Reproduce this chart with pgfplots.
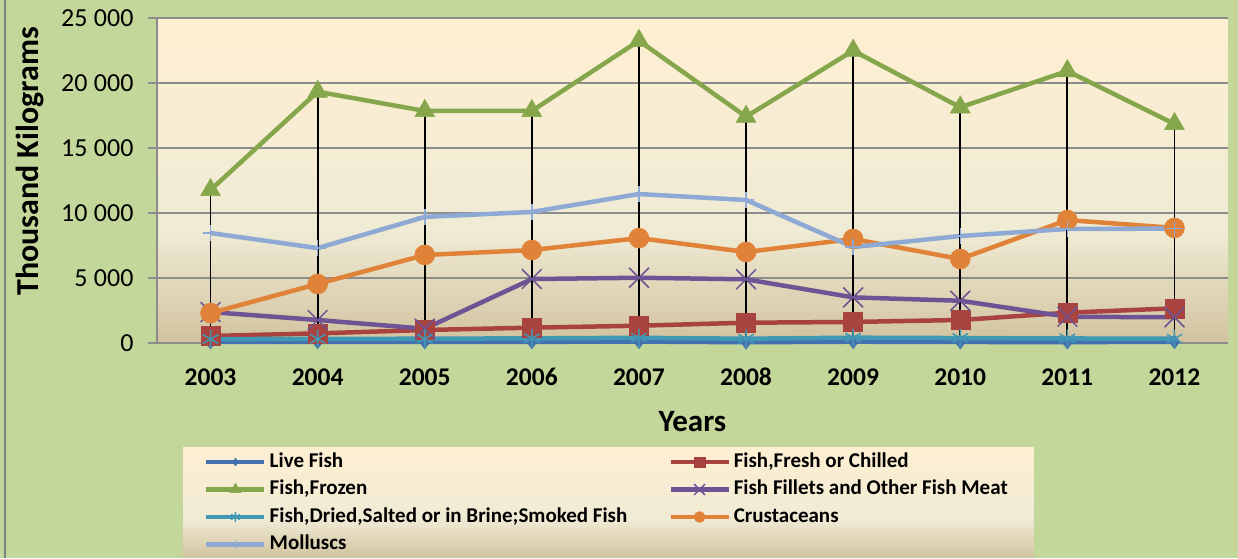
\documentclass[border=0pt]{standalone}
\usepackage{pgfplots}
\pgfplotsset{compat=1.18}
\usepackage{pgfplotstable}
\usepackage{fontspec}
\setmainfont{Carlito}

\definecolor{chartbg}{RGB}{196,215,155}
\definecolor{framegray}{RGB}{128,128,128}
\definecolor{gridgray}{RGB}{140,140,140}
\definecolor{parchtop}{RGB}{254,239,210}
\definecolor{parchmid}{RGB}{240,235,213}
\definecolor{parchbot}{RGB}{210,196,160}
\definecolor{cLive}{RGB}{68,112,176}
\definecolor{cFresh}{RGB}{169,67,64}
\definecolor{cFrozen}{RGB}{134,166,75}
\definecolor{cFillet}{RGB}{110,84,148}
\definecolor{cDried}{RGB}{65,152,180}
\definecolor{cCrust}{RGB}{224,130,56}
\definecolor{cMoll}{RGB}{142,169,212}

% Fish exports by product group, thousand kilograms
\pgfplotstableread{
year live fresh frozen fillets dried crust moll
2003 80  540  11770 2380 300 2300 8460
2004 90  740  19330 1770 320 4540 7300
2005 80  1000 17850 1100 330 6770 9700
2006 90  1180 17850 4920 360 7150 10080
2007 110 1330 23250 5020 400 8070 11460
2008 60  1560 17410 4900 330 7000 11000
2009 100 1620 22490 3510 410 8000 7380
2010 80  1770 18130 3250 380 6460 8230
2011 70  2330 20920 2020 350 9460 8770
2012 90  2670 16850 1980 330 8850 8800
}\fishdata

% parchment gradient: #1,#2 = left/right x, #3 = top y, #4 = height (all in pt)
\newcommand\parchment[4]{%
  \foreach \i in {0,...,31} {%
    \pgfmathtruncatemacro\p{100*\i/31}%
    \fill[parchmid!\p!parchtop]
      (#1pt,{#3pt-0.64*#4pt*\i/32}) rectangle (#2pt,{#3pt-0.64*#4pt*(\i+1)/32-0.6pt});
  }%
  \foreach \i in {0,...,17} {%
    \pgfmathtruncatemacro\p{100*\i/17}%
    \fill[parchbot!\p!parchmid]
      (#1pt,{#3pt-0.64*#4pt-0.36*#4pt*\i/18}) rectangle (#2pt,{max(#3pt-0.64*#4pt-0.36*#4pt*(\i+1)/18-0.6pt,#3pt-#4pt)});
  }%
}

\begin{document}
\begin{tikzpicture}
\useasboundingbox (0pt,0pt) rectangle (1238pt,558pt);
\fill[chartbg] (0pt,0pt) rectangle (1238pt,558pt);
\draw[framegray, line width=2pt] (4.5pt,0pt) -- (4.5pt,558pt);
% plot area and legend backgrounds
\parchment{157}{1228}{540}{325}
\parchment{183}{1034}{111}{111}

\begin{axis}[
  at={(157pt,215pt)}, anchor=south west,
  scale only axis, width=1071pt, height=325pt,
  xmin=2002.5, xmax=2012.5,
  ymin=0, ymax=25000,
  clip=false,
  axis x line*=bottom, axis y line*=left,
  x axis line style={-}, y axis line style={-},
  axis line style={gridgray, line width=1.6pt},
  xtick={2003,...,2012},
  xticklabels={2003,2004,2005,2006,2007,2008,2009,2010,2011,2012},
  x tick style={draw=none},
  ytick={0,5000,...,25000},
  ytick pos=left,
  ymajorgrids,
  major grid style={gridgray, line width=1.6pt},
  y tick style={gridgray, line width=1.6pt},
  tick align=outside, major tick length=9pt,
  /pgf/number format/assume math mode=true,
  /pgf/number format/1000 sep={\hspace{0.25em}},
  scaled y ticks=false,
  xticklabel style={font=\fontsize{25.5}{25.5}\selectfont\bfseries, anchor=base, yshift=-33pt},
  yticklabel style={font=\fontsize{26}{26}\selectfont, xshift=-11pt},
  xlabel={Years},
  ylabel={Thousand Kilograms},
  xlabel style={font=\fontsize{31}{31}\selectfont\bfseries, at={(axis description cs:0.5,-0.243)}, anchor=center},
  ylabel style={font=\fontsize{32}{32}\selectfont\bfseries, at={(axis description cs:-0.119,0.5585)}, anchor=center},
  unbounded coords=jump,
  legend columns=2,
  legend cell align=left,
  legend style={
    at={(axis description cs:0.0243,-0.32)}, anchor=north west,
    draw=none, fill=none,
    font=\fontsize{21}{21}\selectfont\bfseries,
    inner xsep=21pt, inner ysep=1.8pt, row sep=1.5pt,
    nodes={inner sep=3pt, text height=15pt, text depth=5pt},
    /tikz/every even column/.append style={column sep=38pt},
  },
  legend image code/.code={%
    \draw[mark repeat=2, mark phase=2, every mark/.append style={scale=0.55}]
      plot coordinates {(0pt,0pt) (29pt,0pt) (58pt,0pt)};},
]
\addplot[cLive, line width=4.5pt, mark=diamond*, mark size=7pt, mark options={line width=0.5pt}]
  table[x=year, y=live] {\fishdata};
\addlegendentry{Live Fish}
\addplot[cFresh, line width=4.5pt, mark=square*, mark size=9.5pt, mark options={line width=0.5pt}]
  table[x=year, y=fresh] {\fishdata};
\addlegendentry{Fish,Fresh or Chilled}
\addplot[cFrozen, line width=4.5pt, mark=triangle*, mark size=11.5pt, mark options={line width=0.5pt}]
  table[x=year, y=frozen] {\fishdata};
\addlegendentry{Fish,Frozen}
\addplot[cFillet, line width=4.5pt, mark=x, mark size=14pt, mark options={line width=1.5pt}]
  table[x=year, y=fillets] {\fishdata};
\addlegendentry{Fish Fillets and Other Fish Meat}
\addplot[cDried, line width=4.5pt, mark=asterisk, mark size=9pt, mark options={line width=1.5pt}]
  table[x=year, y=dried] {\fishdata};
\addlegendentry{Fish,Dried,Salted or in Brine;Smoked Fish}
\addplot[cCrust, line width=4.5pt, mark=*, mark size=10pt, mark options={line width=0.5pt}]
  table[x=year, y=crust] {\fishdata};
\addlegendentry{Crustaceans}
\addplot[cMoll, line width=4.5pt, mark=+, mark size=8pt, mark options={line width=1.5pt}]
  table[x=year, y=moll] {\fishdata};
\addlegendentry{Molluscs}

% high-low lines from the largest to the smallest series in each year
\addplot[black, line width=1.8pt, mark=none, forget plot] coordinates {
  (2003,80) (2003,11770) (2003,nan)
  (2004,90) (2004,19330) (2004,nan)
  (2005,80) (2005,17850) (2005,nan)
  (2006,90) (2006,17850) (2006,nan)
  (2007,110) (2007,23250) (2007,nan)
  (2008,60) (2008,17410) (2008,nan)
  (2009,100) (2009,22490) (2009,nan)
  (2010,80) (2010,18130) (2010,nan)
  (2011,70) (2011,20920) (2011,nan)
  (2012,90) (2012,16850)
};
\end{axis}
% outer margin to the right of the plot area
\fill[chartbg] (1227.6pt,205pt) rectangle (1238pt,548pt);
\end{tikzpicture}
\end{document}
